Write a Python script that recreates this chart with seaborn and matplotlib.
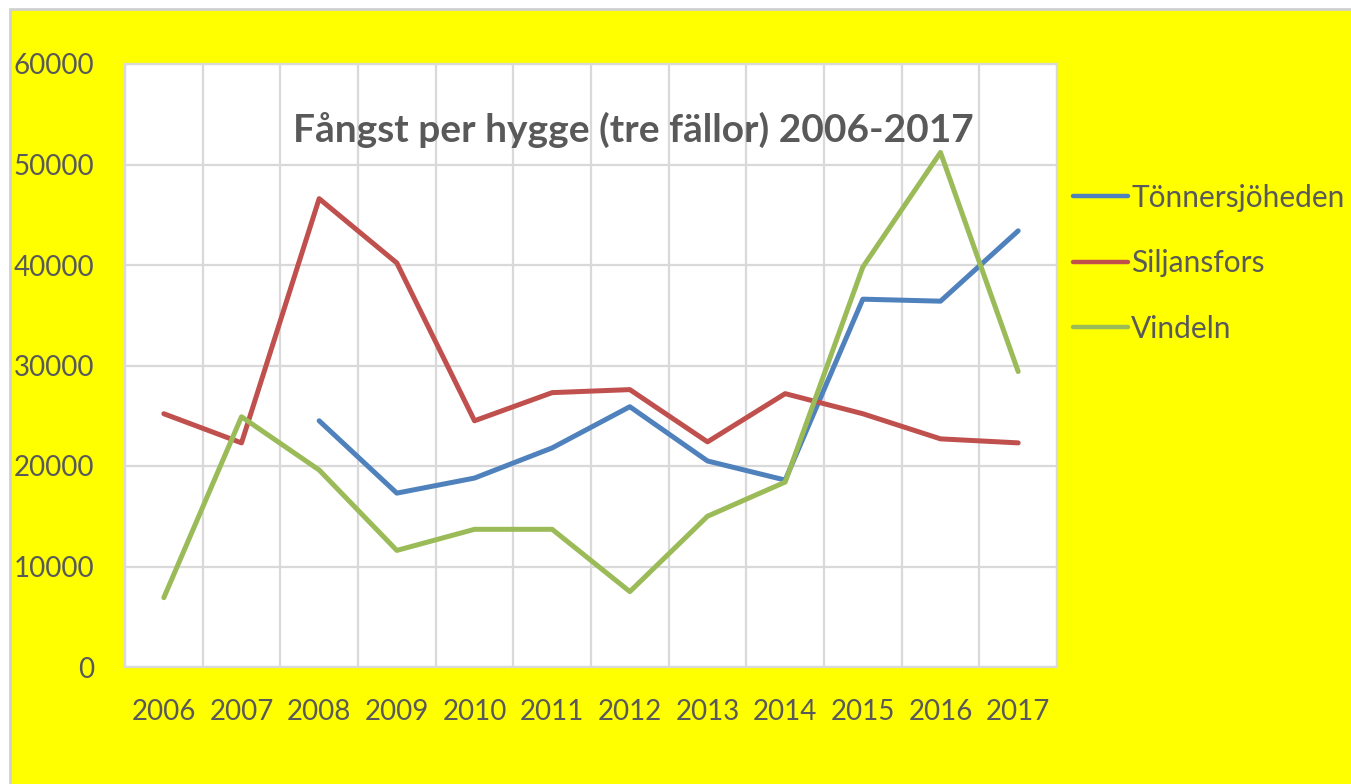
import numpy as np
import pandas as pd
import matplotlib.pyplot as plt
import matplotlib.patches as mpatches
import seaborn as sns

years = list(range(2006, 2018))
tonnersjoheden = [np.nan, np.nan, 24500, 17300, 18800, 21800, 25900, 20500, 18600, 36600, 36400, 43400]
siljansfors = [25200, 22300, 46600, 40200, 24500, 27300, 27600, 22400, 27200, 25200, 22700, 22300]
vindeln = [6900, 24900, 19600, 11600, 13700, 13700, 7500, 15000, 18400, 39800, 51200, 29400]
series_names = ["Tönnersjöheden", "Siljansfors", "Vindeln"]
title = "Fångst per hygge (tre fällor) 2006-2017"

if __name__ == "__main__":
    sns.set_style("white")
    plt.rcParams["font.family"] = ["Lato", "DejaVu Sans"]
    txt_col = "#595959"
    grid_col = "#d9d9d9"

    df = pd.DataFrame({"year": years,
                       series_names[0]: tonnersjoheden,
                       series_names[1]: siljansfors,
                       series_names[2]: vindeln})
    df_long = df.melt(id_vars="year", var_name="site", value_name="catch").dropna()

    fig = plt.figure(figsize=(13.51, 7.84), dpi=100)
    fig.patch.set_facecolor("white")
    # yellow chart background with thin grey frame
    bg = mpatches.Rectangle((10 / 1351, -0.01), 1.0, 1 - 9 / 784 + 0.01, transform=fig.transFigure,
                            facecolor="#ffff00", edgecolor="#d0d0d0", linewidth=2, zorder=-10)
    fig.patches.append(bg)

    ax = fig.add_axes([125 / 1351, 1 - 667 / 784, 932 / 1351, 603 / 784])
    ax.set_facecolor("white")

    my_pal = {series_names[0]: "#4f81bd", series_names[1]: "#c0504d", series_names[2]: "#9bbb59"}
    sns.lineplot(data=df_long, x="year", y="catch", hue="site", palette=my_pal,
                 linewidth=3.6, ax=ax, legend=False, zorder=3)
    for ln in ax.lines:
        ln.set_solid_capstyle("round")
        ln.set_solid_joinstyle("round")

    ax.set_xlim(2005.5, 2017.5)
    ax.set_ylim(0, 60000)
    ax.set_xticks(years)
    ax.set_xticklabels([str(y) for y in years])
    ax.set_yticks(range(0, 60001, 10000))
    ax.set_xticks(np.arange(2005.5, 2018, 1), minor=True)
    ax.grid(axis="y", which="major", color=grid_col, linewidth=1.6, zorder=0)
    ax.grid(axis="x", which="minor", color=grid_col, linewidth=1.6, zorder=0)
    ax.grid(axis="x", which="major", visible=False)
    for s in ax.spines.values():
        s.set_color(grid_col)
        s.set_linewidth(1.6)
    ax.tick_params(axis="both", which="both", length=0, labelsize=20, labelcolor=txt_col)
    ax.tick_params(axis="y", pad=22)
    ax.tick_params(axis="x", pad=23)
    ax.set_xlabel(None)
    ax.set_ylabel(None)

    fig.text(633 / 1351, 1 - 130 / 784, title, ha="center", va="center",
             fontsize=28, fontweight="bold", color=txt_col)

    handles = [plt.Line2D([], [], color=my_pal[n], linewidth=3.2, solid_capstyle="round") for n in series_names]
    leg = fig.legend(handles, series_names, loc="upper left", bbox_to_anchor=(1046 / 1351, 1 - 157 / 784),
                     frameon=False, fontsize=21.5, handlelength=1.85, handletextpad=0.1,
                     labelspacing=1.25, labelcolor=txt_col)

    fig.savefig("out.png", dpi=100)
